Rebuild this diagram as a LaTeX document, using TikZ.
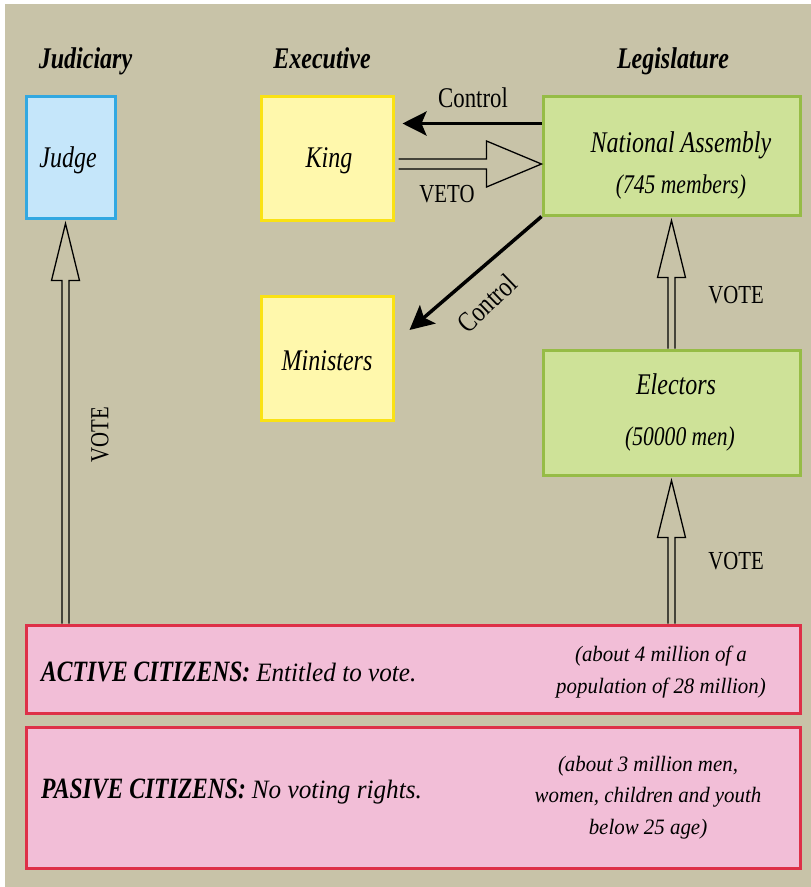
\documentclass[tikz,border=0pt]{standalone}
\usepackage{fontspec}
\setmainfont{Liberation Serif}[FakeStretch=0.8]
\newfontfamily\notefont{Liberation Serif}[FakeStretch=0.95]
\newcommand\citailfont{\fontsize{26.5}{30}\selectfont\notefont\itshape}
\usetikzlibrary{calc,arrows.meta}
\definecolor{bgcol}{RGB}{200,195,168}
\definecolor{judgefill}{RGB}{197,230,250}
\definecolor{judgeline}{RGB}{50,168,225}
\definecolor{kingfill}{RGB}{255,248,172}
\definecolor{kingline}{RGB}{250,226,20}
\definecolor{greenfill}{RGB}{206,226,152}
\definecolor{greenline}{RGB}{150,188,70}
\definecolor{pinkfill}{RGB}{242,190,215}
\definecolor{pinkline}{RGB}{222,48,72}
\begin{document}
\begin{tikzpicture}[x=1pt,y=-1pt,
  box/.style={draw, line width=3pt, inner sep=0pt, anchor=center, rectangle},
  bluebox/.style={box, draw=judgeline, fill=judgefill},
  yellowbox/.style={box, draw=kingline, fill=kingfill},
  greenbox/.style={box, draw=greenline, fill=greenfill},
  pinkbox/.style={box, draw=pinkline, fill=pinkfill},
  title/.style={inner sep=0pt, anchor=base, font=\fontsize{30}{34}\selectfont\bfseries\itshape},
  boxtext/.style={inner sep=0pt, anchor=base, font=\fontsize{30}{34}\selectfont\itshape},
  smalltext/.style={inner sep=0pt, anchor=base, font=\fontsize{27}{30}\selectfont\itshape},
  lbl/.style={inner sep=0pt, anchor=center, font=\fontsize{26}{30}\selectfont},
  ctrllbl/.style={inner sep=0pt, anchor=base, font=\fontsize{28.5}{32}\selectfont},
  citext/.style={inner sep=0pt, anchor=base west, font=\fontsize{29.5}{32}\selectfont\itshape},
  note/.style={inner sep=0pt, anchor=base, align=center, font=\fontsize{22}{31.5}\selectfont\notefont\itshape},
  hollow/.style={draw=black, line width=1.3pt, line join=miter},
  ctrl/.style={draw=black, line width=3.5pt, -{Stealth[length=24pt,width=24pt,inset=5pt]}}
]
\useasboundingbox (0,0) rectangle (811,887);
\fill[white] (0,0) rectangle (811,887);
\fill[bgcol] (5,4) rectangle (811,887);

% titles
\node[title] (tjud) at (85.5,68) {Judiciary};
\node[title] (texe) at (322,68) {Executive};
\node[title] (tleg) at (673,68) {Legislature};

% boxes
\node[bluebox, minimum width=89pt, minimum height=122pt] (judge) at (70.5,157) {};
\node[yellowbox, minimum width=132pt, minimum height=124pt] (king) at (327,158) {};
\node[yellowbox, minimum width=132pt, minimum height=124pt] (ministers) at (327,358) {};
\node[greenbox, minimum width=257pt, minimum height=119pt] (na) at (671.5,155.5) {};
\node[greenbox, minimum width=257pt, minimum height=125pt] (electors) at (671.5,412.5) {};
\node[pinkbox, minimum width=774pt, minimum height=88pt] (active) at (413,669) {};
\node[pinkbox, minimum width=774pt, minimum height=141pt] (pasive) at (413,797.5) {};

% box texts
\node[boxtext] (judgetxt) at (68,167) {Judge};
\node[boxtext] (kingtxt) at (329,167) {King};
\node[boxtext] (ministxt) at (327,370) {Ministers};
\node[boxtext] (natxt) at (681,152) {National Assembly};
\node[smalltext] (namem) at (681,193) {(745 members)};
\node[boxtext] (electxt) at (676,394) {Electors};
\node[smalltext] (elecmen) at (680,445) {(50000 men)};

% citizens texts
\node[citext] (acttxt) at (41,681) {\textbf{ACTIVE CITIZENS:} {\citailfont Entitled to vote.}};
\node[note] (actnote) at (661,693) {(about 4 million of a\\population of 28 million)};
\node[citext] (pastxt) at (41,798) {\textbf{PASIVE CITIZENS:} {\citailfont No voting rights.}};
\node[note] (pasnote) at (648,834) {(about 3 million men,\\women, children and youth\\below 25 age)};

% Control arrow King <- NA
\coordinate (c1) at ($(na.west)+(0,-32)$);
\coordinate (c2) at ($(king.east)+(8,0)$);
\draw[ctrl] (c1) -- (c2 |- c1);
\node[ctrllbl] (ctrltxt) at (473,107) {Control};

% VETO hollow arrow King -> NA
\coordinate (vs) at ($(king.east)+(4,6)$);
\coordinate (vt) at (na.west |- vs);
\draw[hollow] ($(vs)+(0,-5)$) -- ($(vt)+(-55,-5)$) -- ($(vt)+(-55,-23)$) -- (vt)
   -- ($(vt)+(-55,23)$) -- ($(vt)+(-55,5)$) -- ($(vs)+(0,5)$);
\node[lbl] (vetotxt) at (447,194) {VETO};

% Control diagonal NA -> Ministers
\coordinate (d2) at ($(ministers.east)+(15,-28)$);
\draw[ctrl] (na.south west) -- (d2);
\node[ctrllbl, anchor=center, rotate=44] (ctrl2txt) at (487,303) {Control};

% vertical hollow arrows
\newcommand\voteup[2]{%
  \draw[hollow] ($(#1)+(-3.5,0)$) -- ($(#2)+(-3.5,57)$) -- ($(#2)+(-14,57)$) -- (#2)
     -- ($(#2)+(14,57)$) -- ($(#2)+(3.5,57)$) -- ($(#1)+(3.5,0)$);}
\coordinate (jt) at ($(judge.south)+(-5,4)$);
\coordinate (jb) at (jt |- active.north);
\voteup{jb}{jt}
\node[lbl, rotate=90] (vote1) at (100,435) {VOTE};

\coordinate (nt) at ($(na.south)+(0,4)$);
\coordinate (nb) at (nt |- electors.north);
\voteup{nb}{nt}
\node[lbl] (vote2) at (736,295) {VOTE};

\coordinate (et) at ($(electors.south)+(0,4)$);
\coordinate (eb) at (et |- active.north);
\voteup{eb}{et}
\node[lbl] (vote3) at (736,561) {VOTE};
\end{tikzpicture}
\end{document}
